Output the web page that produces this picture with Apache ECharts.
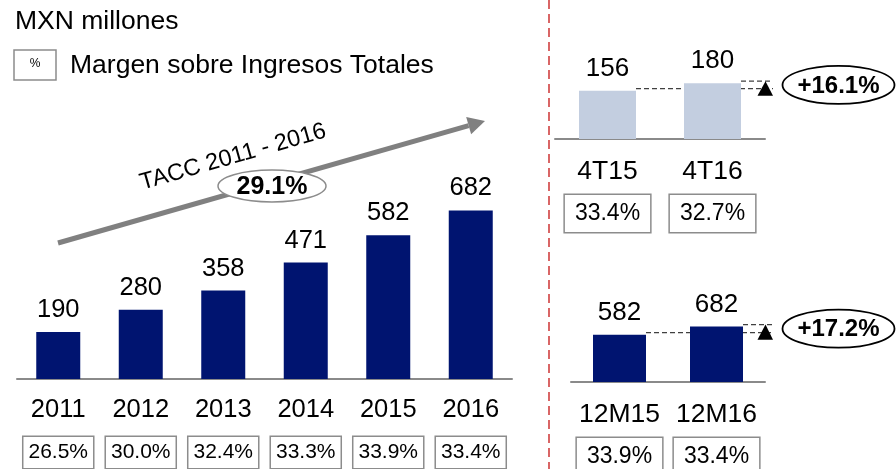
<!DOCTYPE html>
<html style="height: 100%">
<head>
    <meta charset="utf-8">
</head>
<body style="height: 100%; margin: 0">
<div id="container" style="width: 896px; height: 469px"></div>
<script type="text/javascript" src="https://cdn.jsdelivr.net/npm/echarts@6/dist/echarts.min.js"></script>
<script type="text/javascript">
  // EBITDA anual
  const years = ['2011', '2012', '2013', '2014', '2015', '2016'];
  const yearValues = [190, 280, 358, 471, 582, 682];
  const yearMargins = ['26.5%', '30.0%', '32.4%', '33.3%', '33.9%', '33.4%'];

  // trimestre
  const quarters = ['4T15', '4T16'];
  const quarterValues = [156, 180];
  const quarterMargins = ['33.4%', '32.7%'];

  // últimos 12 meses
  const ltm = ['12M15', '12M16'];
  const ltmValues = [582, 682];
  const ltmMargins = ['33.9%', '33.4%'];

  const growthLabels = ['+16.1%', '+17.2%'];
  const cagrLabel = '29.1%';

  const FONT = '"Liberation Sans", Arial, sans-serif';
  const NAVY = '#001470';
  const LIGHT = '#C3CEE0';
  const AXIS = '#8a8a8a';

  var dom = document.getElementById('container');
  var myChart = echarts.init(dom);

  function catAxis(grid, data, size, margin) {
    return {
      type: 'category', gridIndex: grid, data: data, position: 'bottom',
      axisLine: { lineStyle: { color: AXIS, width: 2 } },
      axisTick: { show: false },
      axisLabel: { interval: 0, margin: margin, color: '#000', fontSize: size, fontFamily: FONT }
    };
  }
  function boxAxis(grid, data, size, pad, margin) {
    return {
      type: 'category', gridIndex: grid, data: data, position: 'bottom',
      axisLine: { show: false }, axisTick: { show: false },
      axisLabel: {
        interval: 0, margin: margin, color: '#000', fontSize: size, fontFamily: FONT,
        borderColor: '#8c8c8c', borderWidth: 1.5, padding: pad, backgroundColor: '#fff'
      }
    };
  }
  function valAxis(grid, max) {
    return { type: 'value', gridIndex: grid, min: 0, max: max, show: false, splitLine: { show: false } };
  }
  function barSeries(x, y, data, color, width, size) {
    return {
      type: 'bar', xAxisIndex: x, yAxisIndex: y, data: data, barWidth: width,
      itemStyle: { color: color }, silent: true,
      label: { show: true, position: 'top', distance: 9, color: '#000', fontSize: size, fontFamily: FONT }
    };
  }

  var option = {
    animation: false,
    grid: [
      { left: 17, right: 384, top: 206, bottom: 90, outerBoundsMode: 'none' },
      { left: 555, right: 131, top: 77, bottom: 330, outerBoundsMode: 'none' },
      { left: 571, right: 131, top: 317, bottom: 87, outerBoundsMode: 'none' }
    ],
    xAxis: [
      catAxis(0, years, 25.5, 18),
      boxAxis(0, yearMargins, 21, [5, 5], 58),
      catAxis(1, quarters, 26.5, 19),
      boxAxis(1, quarterMargins, 23, [7, 10], 56),
      catAxis(2, ltm, 26.5, 19),
      boxAxis(2, ltmMargins, 23, [7, 10], 56)
    ],
    yAxis: [valAxis(0, 700), valAxis(1, 200), valAxis(2, 800)],
    series: [
      barSeries(0, 0, yearValues, NAVY, 44, 25.5),
      barSeries(2, 1, quarterValues, LIGHT, 57, 26),
      barSeries(4, 2, ltmValues, NAVY, 53, 26)
    ]
  };
  myChart.setOption(option);

  // anotaciones
  const graphics = [];
  graphics.push({
    type: 'line', shape: { x1: 549, y1: 0, x2: 549, y2: 469 },
    style: { stroke: '#C00000', lineWidth: 1.2, lineDash: [9, 5] }
  });
  graphics.push({
    type: 'text', x: 15, y: 22,
    style: { text: 'MXN millones', font: '26.5px ' + FONT, fill: '#000', verticalAlign: 'middle' }
  });
  graphics.push({
    type: 'rect', shape: { x: 14, y: 50, width: 42, height: 30 },
    style: { fill: '#fff', stroke: '#8c8c8c', lineWidth: 1.5 }
  });
  graphics.push({
    type: 'text', x: 35, y: 64,
    style: { text: '%', font: '12px ' + FONT, fill: '#000', align: 'center', verticalAlign: 'middle' }
  });
  graphics.push({
    type: 'text', x: 70, y: 66,
    style: { text: 'Margen sobre Ingresos Totales', font: '26.5px ' + FONT, fill: '#000', verticalAlign: 'middle' }
  });

  // flecha TACC
  const start = [58, 243], tip = [485, 121];
  const dx = tip[0] - start[0], dy = tip[1] - start[1];
  const len = Math.sqrt(dx * dx + dy * dy);
  const ux = dx / len, uy = dy / len;
  const base = [tip[0] - 17 * ux, tip[1] - 17 * uy];
  graphics.push({
    type: 'line', shape: { x1: start[0], y1: start[1], x2: base[0], y2: base[1] },
    style: { stroke: '#808080', lineWidth: 5 }
  });
  graphics.push({
    type: 'polygon',
    shape: { points: [tip, [base[0] - 9 * uy, base[1] + 9 * ux], [base[0] + 9 * uy, base[1] - 9 * ux]] },
    style: { fill: '#808080' }
  });
  graphics.push({
    type: 'text', x: 233, y: 157, rotation: Math.atan2(-dy, dx),
    style: { text: 'TACC 2011 - 2016', font: '23.5px ' + FONT, fill: '#000', align: 'center', verticalAlign: 'middle' }
  });
  graphics.push({
    type: 'ellipse', shape: { cx: 272, cy: 186, rx: 54, ry: 16 },
    style: { fill: '#fff', stroke: '#8c8c8c', lineWidth: 1.5 }
  });
  graphics.push({
    type: 'text', x: 272, y: 187,
    style: { text: cagrLabel, font: 'bold 25px ' + FONT, fill: '#000', align: 'center', verticalAlign: 'middle' }
  });

  function growthMarker(xIdx, yIdx, cats, vals, barW, label) {
    const finder = { xAxisIndex: xIdx, yAxisIndex: yIdx };
    const p0 = myChart.convertToPixel(finder, [cats[0], vals[0]]);
    const p1 = myChart.convertToPixel(finder, [cats[1], vals[1]]);
    const right = p1[0] + (p1[0] - p0[0]) / 2;
    const end = right + 8;
    const y0 = p0[1] - 2, y1 = p1[1] - 2;
    const dash = { stroke: '#404040', lineWidth: 1.3, lineDash: [5, 3] };
    graphics.push({ type: 'line', shape: { x1: p0[0] + barW / 2, y1: y0, x2: end, y2: y0 }, style: dash });
    graphics.push({ type: 'line', shape: { x1: p1[0] + barW / 2, y1: y1, x2: end, y2: y1 }, style: dash });
    graphics.push({
      type: 'polygon', shape: { points: [[right - 7.5, y0 + 7], [right + 8, y0 + 7], [right + 0.5, y1]] },
      style: { fill: '#000' }
    });
    const cy = (y0 + y1) / 2;
    graphics.push({
      type: 'ellipse', shape: { cx: right + 73.5, cy: cy, rx: 56, ry: 19 },
      style: { fill: '#fff', stroke: '#000', lineWidth: 1.8 }
    });
    graphics.push({
      type: 'text', x: right + 73.5, y: cy + 1,
      style: { text: label, font: 'bold 24px ' + FONT, fill: '#000', align: 'center', verticalAlign: 'middle' }
    });
  }
  growthMarker(2, 1, quarters, quarterValues, 57, growthLabels[0]);
  growthMarker(4, 2, ltm, ltmValues, 53, growthLabels[1]);

  myChart.setOption({ graphic: graphics });
</script>
</body>
</html>
